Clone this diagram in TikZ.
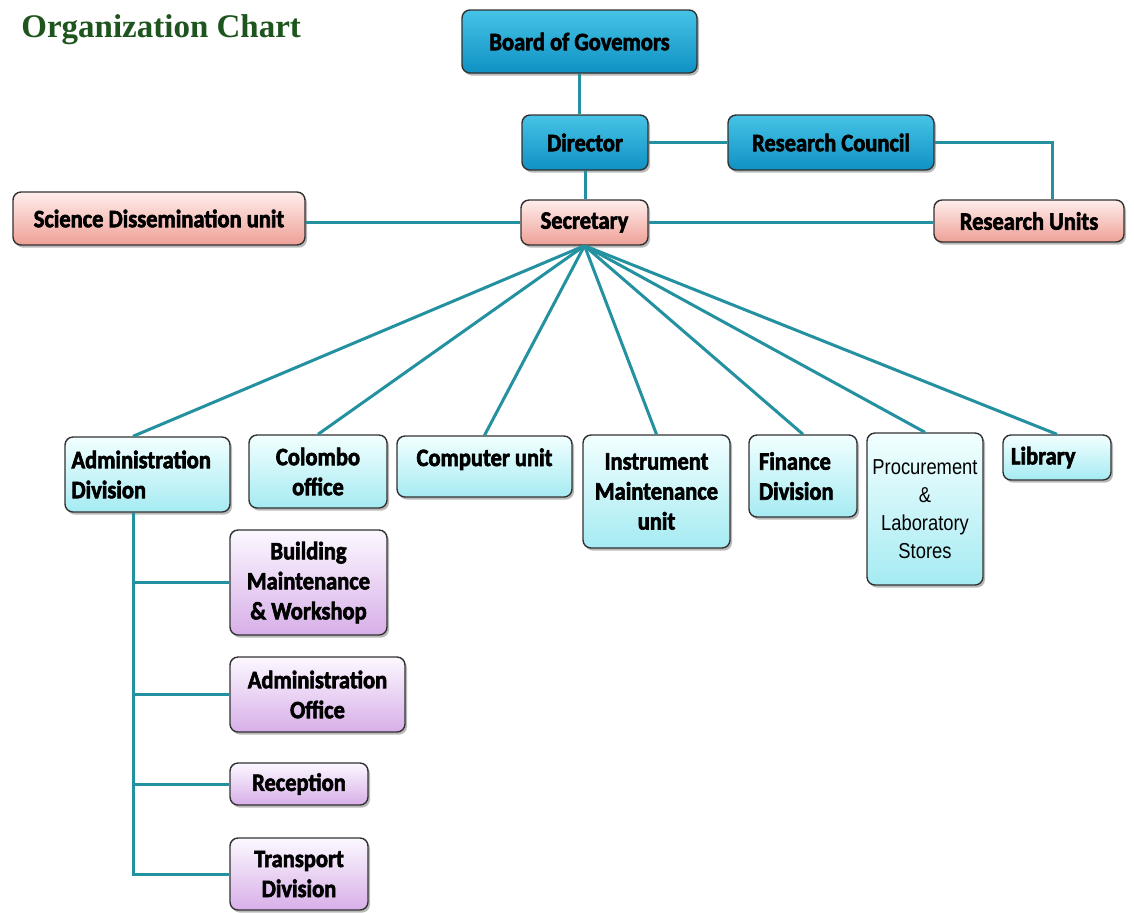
\documentclass[tikz,border=0pt]{standalone}
\usepackage{fontspec}
\setmainfont{Carlito}
\newfontfamily\boxfont{Carlito}[FakeStretch=0.9, BoldFeatures={FakeBold=2.5}]
\newfontfamily\narrowfont{Liberation Sans}[FakeStretch=0.85]
\newfontfamily\titlefont{Liberation Serif}
\usetikzlibrary{positioning, shadows}

\definecolor{govtop}{RGB}{70,195,230}
\definecolor{govbot}{RGB}{15,145,195}
\definecolor{pinktop}{RGB}{255,238,236}
\definecolor{pinkbot}{RGB}{238,160,150}
\definecolor{cyantop}{RGB}{242,255,255}
\definecolor{cyanbot}{RGB}{165,235,242}
\definecolor{lilactop}{RGB}{252,248,255}
\definecolor{lilacbot}{RGB}{215,175,232}
\definecolor{linkteal}{RGB}{35,145,160}
\definecolor{boxline}{RGB}{50,50,50}
\definecolor{titlegreen}{RGB}{30,85,30}

\begin{document}
\begin{tikzpicture}[
  x=0.5pt, y=-0.5pt,
  box/.style   = {draw=boxline, line width=0.7pt, rounded corners=4pt,
                  align=center, inner sep=2pt,
                  font=\boxfont\fontsize{12.5}{15}\selectfont\bfseries,
                  drop shadow={opacity=0.55, shadow xshift=1pt, shadow yshift=-1.3pt}},
  govbox/.style  = {box, top color=govtop, bottom color=govbot},
  pinkbox/.style = {box, top color=pinktop, bottom color=pinkbot},
  unitbox/.style = {box, top color=cyantop, bottom color=cyanbot},
  subbox/.style  = {box, top color=lilactop, bottom color=lilacbot},
  link/.style    = {draw=linkteal, line width=1.5pt},
]
\useasboundingbox (0,0) rectangle (1134,912);

% Title
\node[anchor=base west, inner sep=0, text=titlegreen,
      font=\titlefont\fontsize{16.5}{18}\selectfont\bfseries]
  (title) at (21,37.5) {Organization Chart};

% Top levels
\node[govbox, minimum width=117.5pt, minimum height=31.5pt] (board)    at (579.5,41.5) {Board of Govemors};
\node[govbox, minimum width=63pt,    minimum height=27.5pt] (director) at (585,142.5)  {Director};
\node[govbox, minimum width=103pt,   minimum height=27.5pt] (council)  at (831,142.5)  {Research Council};

% Secretary row
\node[pinkbox, minimum width=63.5pt, minimum height=22.5pt] (secretary) at (584.5,222.5) {Secretary};
\node[pinkbox, minimum width=146pt,  minimum height=26.5pt] (sdu)       at (159,218.5)   {Science Dissemination unit};
\node[pinkbox, minimum width=95pt,   minimum height=21pt]   (units)     at (1029,221)    {Research Units};

% Units under the secretary
\node[unitbox, minimum height=37.5pt, text width=76pt, inner xsep=3.25pt, align=left]
  (admin) at (147.5,474.5) {Administration\\Division};
\node[unitbox, minimum width=69pt, minimum height=36.5pt]
  (colombo) at (318,471.5) {Colombo\\office};
\node[unitbox, minimum width=87.5pt, text height=12pt, text depth=12.5pt, inner ysep=3pt]
  (computer) at (484.5,466.5) {Computer unit};
\node[unitbox, minimum width=73.5pt, minimum height=56.5pt]
  (instrument) at (656.5,491.5) {Instrument\\Maintenance\\unit};
\node[unitbox, minimum height=41pt, text width=44pt, inner xsep=5pt, align=left]
  (finance) at (803,476) {Finance\\Division};
\node[unitbox, minimum width=58pt, minimum height=76pt,
      font=\narrowfont\fontsize{10.8}{14}\selectfont]
  (procure) at (925,509) {Procurement\\\&\\Laboratory\\Stores};
\node[unitbox, minimum height=22.5pt, text width=46pt, inner xsep=4pt, align=left]
  (library) at (1057,457.5) {Library};

% Sections of the administration division
\node[subbox, minimum width=78.5pt, minimum height=52.5pt] (building)    at (308.5,582.5) {Building\\Maintenance\\\& Workshop};
\node[subbox, minimum width=87.5pt, minimum height=37.5pt] (adminoffice) at (317.5,694.5) {Administration\\Office};
\node[subbox, minimum width=69pt,   minimum height=21pt]   (reception)   at (299,784)     {Reception};
\node[subbox, minimum width=69pt,   minimum height=36pt]   (transport)   at (299,874)     {Transport\\Division};

% Connectors
\path[link] (board) -- (board |- director.north);
\path[link] (director) -- (director |- secretary.north);
\path[link] (director.east) -- (council.west);
\path[link] (council.east) -| ([xshift=11.5pt]units.north);
\path[link] (secretary.west) -- (secretary.west -| sdu.east);
\path[link] (secretary.east) -- (secretary.east -| units.west);

\path[link] (secretary.south) -- ([xshift=-7.25pt]admin.north);
\foreach \n in {colombo, computer, instrument, finance, procure, library}
  \path[link] (secretary.south) -- (\n.north);

\foreach \n in {building, adminoffice, reception, transport}
  \path[link] ([xshift=-7.25pt]admin.south) |- (\n.west);

\end{tikzpicture}
\end{document}
